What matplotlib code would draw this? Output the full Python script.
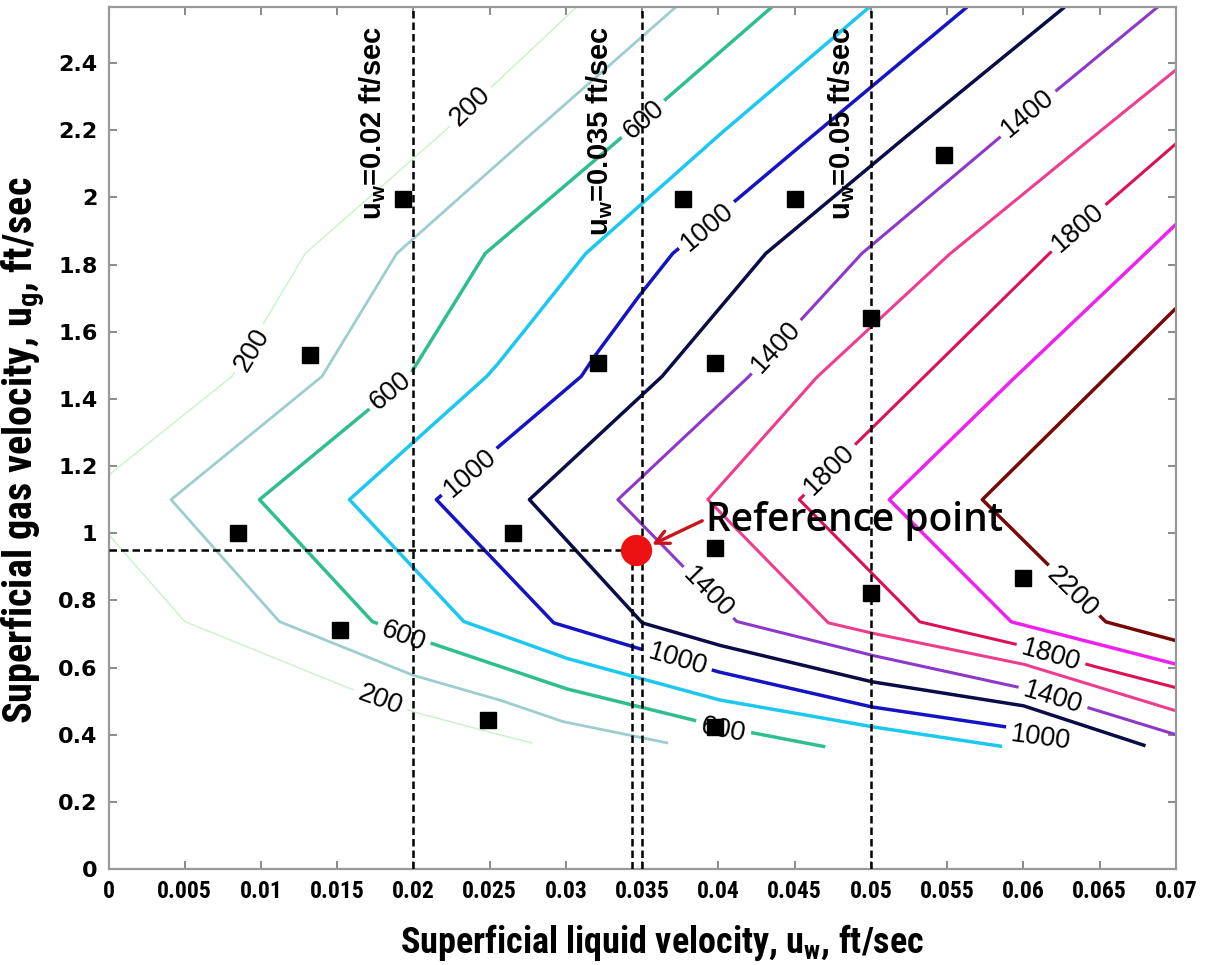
import numpy as np
import matplotlib
matplotlib.use("Agg")
import matplotlib.pyplot as plt
from matplotlib import font_manager

# ---------------------------------------------------------------
# Contour data: superficial liquid velocity (x) vs gas velocity (y)
# Each level is a polyline (upper branch -> vertex -> lower branch)
# ---------------------------------------------------------------
levels = [200, 400, 600, 800, 1000, 1200, 1400, 1600, 1800, 2000, 2200]

x_200 = [0.0307, 0.0221, 0.0129, 0.0081, -0.0020, 0.0050, 0.0155, 0.0200, 0.0256, 0.0278]
y_200 = [2.567, 2.200, 1.833, 1.467, 1.100, 0.737, 0.543, 0.468, 0.400, 0.375]

x_400 = [0.0372, 0.0280, 0.0189, 0.0140, 0.0041, 0.0112, 0.0199, 0.0256, 0.0298, 0.0367]
y_400 = [2.567, 2.200, 1.833, 1.467, 1.100, 0.737, 0.578, 0.504, 0.439, 0.375]

x_600 = [0.0435, 0.0342, 0.0247, 0.0197, 0.0099, 0.0173, 0.0200, 0.0300, 0.0400, 0.0470]
y_600 = [2.567, 2.200, 1.833, 1.467, 1.100, 0.737, 0.690, 0.537, 0.425, 0.364]

x_800 = [0.0499, 0.0404, 0.0313, 0.0288, 0.0256, 0.0248, 0.0158, 0.0233, 0.0300, 0.0400, 0.0500, 0.0586]
y_800 = [2.567, 2.200, 1.833, 1.690, 1.508, 1.467, 1.100, 0.737, 0.628, 0.504, 0.424, 0.365]

x_1000 = [0.0563, 0.0466, 0.0370, 0.0349, 0.0320, 0.0310, 0.0215, 0.0292, 0.0346, 0.0400, 0.0500, 0.0584, 0.0630]
y_1000 = [2.567, 2.200, 1.833, 1.713, 1.535, 1.467, 1.100, 0.733, 0.659, 0.587, 0.483, 0.426, 0.398]

x_1200 = [0.0627, 0.0528, 0.0431, 0.0363, 0.0276, 0.0350, 0.0400, 0.0500, 0.0600, 0.0680]
y_1200 = [2.567, 2.200, 1.833, 1.467, 1.100, 0.733, 0.667, 0.558, 0.486, 0.367]

x_1400 = [0.0688, 0.0590, 0.0494, 0.0420, 0.0334, 0.0412, 0.0500, 0.0600, 0.0647, 0.0700]
y_1400 = [2.567, 2.200, 1.833, 1.467, 1.100, 0.737, 0.637, 0.538, 0.474, 0.400]

x_1600 = [0.0700, 0.0651, 0.0552, 0.0465, 0.0393, 0.0472, 0.0500, 0.0600, 0.0700]
y_1600 = [2.380, 2.200, 1.833, 1.467, 1.100, 0.733, 0.703, 0.610, 0.471]

x_1800 = [0.0700, 0.0617, 0.0535, 0.0453, 0.0532, 0.0600, 0.0645, 0.0700]
y_1800 = [2.160, 1.833, 1.467, 1.100, 0.736, 0.664, 0.605, 0.540]

x_2000 = [0.0700, 0.0680, 0.0595, 0.0512, 0.0592, 0.0700]
y_2000 = [1.920, 1.833, 1.467, 1.100, 0.736, 0.610]

x_2200 = [0.0700, 0.0573, 0.0654, 0.0700]
y_2200 = [1.670, 1.100, 0.736, 0.680]

level_x = [x_200, x_400, x_600, x_800, x_1000, x_1200, x_1400, x_1600, x_1800, x_2000, x_2200]
level_y = [y_200, y_400, y_600, y_800, y_1000, y_1200, y_1400, y_1600, y_1800, y_2000, y_2200]

level_colors = ['#c9f2c9', '#9dcdcd', '#2fbf8c', '#1cc8ef', '#1414c4', '#0b0b48',
                '#8d38c9', '#ee3d8e', '#dc1254', '#ee22ee', '#780808']
level_widths = [1.0, 2.0, 2.5, 2.5, 2.5, 2.5, 2.2, 2.2, 2.2, 2.5, 2.5]

# Inline contour labels: level value and position along its line
label_level = [200, 200, 200, 600, 600, 600, 600, 1000, 1000, 1000, 1000,
               1400, 1400, 1400, 1400, 1800, 1800, 1800, 2200]
label_x = [0.0237, 0.0094, 0.0178, 0.0351, 0.0185, 0.0193, 0.0403, 0.0393, 0.0237, 0.0373, 0.0611,
           0.0603, 0.0438, 0.0393, 0.0619, 0.0636, 0.0473, 0.0618, 0.0632]
label_y = [2.270, 1.546, 0.503, 2.231, 1.424, 0.691, 0.414, 1.912, 1.180, 0.623, 0.390,
           2.249, 1.555, 0.822, 0.509, 1.908, 1.189, 0.635, 0.825]

# Experimental points
exp_x = [0.0085, 0.0132, 0.0193, 0.0152, 0.0249, 0.0265, 0.0321, 0.0377, 0.0398, 0.0450,
         0.0398, 0.0398, 0.0500, 0.0500, 0.0548, 0.0600]
exp_y = [1.000, 1.531, 1.995, 0.711, 0.445, 1.000, 1.507, 1.996, 1.507, 1.996,
         0.956, 0.423, 1.641, 0.823, 2.126, 0.866]

# Reference operating point and constant-liquid-velocity guides
ref_x, ref_y = 0.0346, 0.95
ref_guide_x = 0.0343
uw_lines = [0.02, 0.035, 0.05]
uw_texts = ['u$_{w}$=0.02 ft/sec', 'u$_{w}$=0.035 ft/sec', 'u$_{w}$=0.05 ft/sec']
uw_text_x = [0.0173, 0.0322, 0.0481]

x_ticks = np.round(np.arange(0, 0.0701, 0.005), 3)
x_ticklabels = ['0', '0.005', '0.01', '0.015', '0.02', '0.025', '0.03', '0.035',
                '0.04', '0.045', '0.05', '0.055', '0.06', '0.065', '0.07']
y_ticks = np.round(np.arange(0, 2.41, 0.2), 1)
y_ticklabels = ['0', '0.2', '0.4', '0.6', '0.8', '1', '1.2', '1.4', '1.6', '1.8',
                '2', '2.2', '2.4']


def pick_font(*names):
    available = {f.name for f in font_manager.fontManager.ttflist}
    for n in names:
        if n in available:
            return n
    return 'DejaVu Sans'


narrow = pick_font('Liberation Sans Narrow', 'Roboto Condensed', 'Liberation Sans')
sans = pick_font('Liberation Sans', 'Arial', 'DejaVu Sans')
plt.rcParams['mathtext.default'] = 'regular'

fig = plt.figure(figsize=(12.13, 9.65), dpi=100)
ax = fig.add_axes([108.5 / 1213, 96 / 965, (1176 - 108.5) / 1213, 862 / 965])
ax.set_xlim(0, 0.07)
ax.set_ylim(0, 2.567)

LABEL_FS = 19.5


def draw_level(xs, ys, gaps, **kw):
    """Plot a polyline, leaving gaps (in pixels) around inline labels."""
    pts = ax.transData.transform(np.column_stack([xs, ys]))
    dense = []
    for a, b in zip(pts[:-1], pts[1:]):
        n = max(int(np.hypot(*(b - a))), 1)
        t = np.linspace(0, 1, n, endpoint=False)
        dense.append(a + (b - a) * t[:, None])
    dense.append(pts[-1:])
    dense = np.vstack(dense)
    keep = np.ones(len(dense), bool)
    for c, r in gaps:
        keep &= np.hypot(*(dense - c).T) > r
    dense[~keep] = np.nan
    data = ax.transData.inverted().transform(dense)
    ax.plot(data[:, 0], data[:, 1], solid_capstyle='butt', zorder=2, **kw)
    return pts


for lev, xs, ys, col, lw in zip(levels, level_x, level_y, level_colors, level_widths):
    gaps = []
    items = []
    for ll, lx, ly in zip(label_level, label_x, label_y):
        if ll != lev:
            continue
        c = ax.transData.transform((lx, ly))
        text = str(ll)
        r = 0.5 * len(text) * 0.56 * LABEL_FS * 100 / 72 + 5
        gaps.append((c, r))
        items.append((lx, ly, text))
    pts = draw_level(xs, ys, gaps, color=col, lw=lw)
    for lx, ly, text in items:
        c = ax.transData.transform((lx, ly))
        # local direction of the line at the label
        d = []
        for a, b in zip(pts[:-1], pts[1:]):
            ab = b - a
            t = np.clip(np.dot(c - a, ab) / np.dot(ab, ab), 0, 1)
            d.append(np.hypot(*(a + t * ab - c)))
        k = int(np.argmin(d))
        ab = pts[k + 1] - pts[k]
        ang = np.degrees(np.arctan2(ab[1], ab[0]))
        if ang > 90:
            ang -= 180
        if ang < -90:
            ang += 180
        ax.text(lx, ly, text, rotation=ang, rotation_mode='anchor', ha='center', va='center',
                fontsize=LABEL_FS, family=sans, color='black', zorder=3)

# Guide lines
dash = dict(color='black', lw=1.8, ls=(0, (3.0, 1.6)), zorder=4)
for xv in uw_lines:
    ax.plot([xv, xv], [0, 2.567], **dash)
ax.plot([ref_guide_x, ref_guide_x], [0, ref_y], **dash)
ax.plot([0, ref_guide_x], [ref_y, ref_y], **dash)

for tx, txt in zip(uw_text_x, uw_texts):
    ax.text(tx, 2.567 - 0.058, txt, rotation=90, ha='center', va='top', fontsize=21,
            family=sans, fontweight='bold', zorder=5)

# Experimental points and reference point
ax.plot(exp_x, exp_y, 's', color='black', markersize=11, zorder=5)
ax.plot([ref_x], [ref_y], 'o', color='#ee1111', markersize=21.5, zorder=6)

ax.annotate('Reference point', xy=(ref_x + 0.0003, ref_y), xytext=(0.0392, 1.007),
            fontsize=28, family=pick_font('Open Sans', 'Noto Sans', 'DejaVu Sans'),
            fontweight='semibold', ha='left', va='baseline', zorder=7,
            arrowprops=dict(arrowstyle='->', color='#c8141a', lw=2.4, shrinkA=1, shrinkB=9,
                            mutation_scale=24, relpos=(0.0, 0.55)))

# Axes styling
ax.set_xticks(x_ticks)
ax.set_xticklabels(x_ticklabels, family=narrow, fontweight='bold', fontsize=17)
ax.set_yticks(y_ticks)
ax.set_yticklabels(y_ticklabels, family='DejaVu Sans', fontweight='bold', fontsize=16)
ax.tick_params(direction='in', length=6, width=1.2, color='#777777', top=True, right=True,
               pad=8)
for s in ax.spines.values():
    s.set_color('#999999')
    s.set_linewidth(1.6)

ax.set_xlabel('Superficial liquid velocity, u$_{w}$, ft/sec', family=narrow,
              fontweight='bold', fontsize=26)
ax.xaxis.set_label_coords(0.5185, -0.061)
ax.set_ylabel('Superficial gas velocity, u$_{g}$, ft/sec', family=narrow,
              fontweight='bold', fontsize=29, va='center')
ax.yaxis.set_label_coords(-0.079, 0.486)

fig.savefig('out.png', dpi=100)
